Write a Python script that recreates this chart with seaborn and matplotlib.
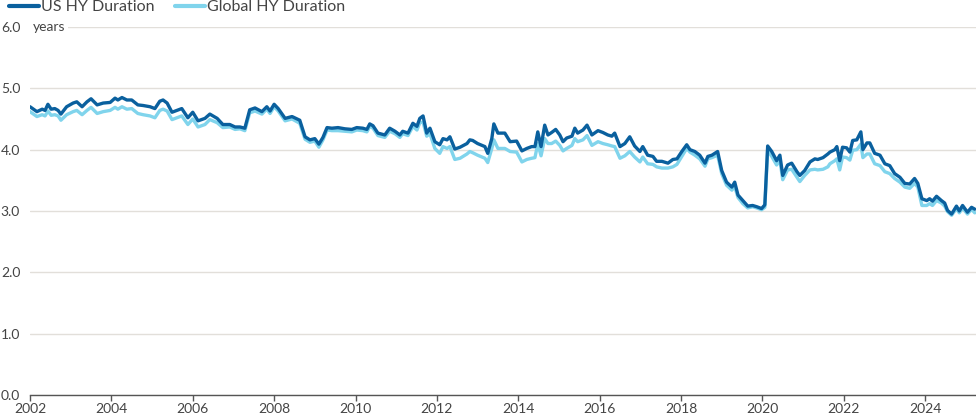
import pandas as pd
import seaborn as sns
import matplotlib.pyplot as plt

# decimal years
years = [
    2002.00, 2002.17, 2002.30, 2002.37, 2002.44, 2002.52, 2002.61, 2002.69, 2002.76, 2002.90,
    2003.06, 2003.15, 2003.28, 2003.40, 2003.50, 2003.65, 2003.80, 2003.97, 2004.09, 2004.16,
    2004.26, 2004.38, 2004.50, 2004.65, 2004.78, 2004.95, 2005.07, 2005.19, 2005.27, 2005.37,
    2005.49, 2005.61, 2005.73, 2005.88, 2006.00, 2006.13, 2006.30, 2006.42, 2006.60, 2006.74,
    2006.91, 2007.04, 2007.16, 2007.28, 2007.40, 2007.53, 2007.70, 2007.82, 2007.90, 2008.00,
    2008.10, 2008.27, 2008.44, 2008.63, 2008.76, 2008.88, 2009.00, 2009.10, 2009.20, 2009.30,
    2009.42, 2009.57, 2009.74, 2009.91, 2010.03, 2010.18, 2010.28, 2010.35, 2010.43, 2010.55,
    2010.72, 2010.84, 2010.97, 2011.09, 2011.16, 2011.29, 2011.41, 2011.51, 2011.58, 2011.66,
    2011.75, 2011.83, 2011.95, 2012.07, 2012.15, 2012.25, 2012.32, 2012.44, 2012.57, 2012.74,
    2012.81, 2012.88, 2013.00, 2013.18, 2013.25, 2013.35, 2013.40, 2013.50, 2013.67, 2013.80,
    2013.96, 2014.09, 2014.21, 2014.33, 2014.41, 2014.48, 2014.56, 2014.65, 2014.73, 2014.82,
    2014.92, 2015.02, 2015.10, 2015.19, 2015.32, 2015.39, 2015.46, 2015.59, 2015.69, 2015.81,
    2015.96, 2016.08, 2016.20, 2016.30, 2016.37, 2016.50, 2016.62, 2016.74, 2016.86, 2016.99,
    2017.06, 2017.18, 2017.31, 2017.40, 2017.53, 2017.68, 2017.80, 2017.90, 2018.02, 2018.14,
    2018.22, 2018.34, 2018.46, 2018.59, 2018.66, 2018.76, 2018.90, 2019.00, 2019.12, 2019.25,
    2019.32, 2019.40, 2019.52, 2019.64, 2019.76, 2019.86, 2019.98, 2020.06, 2020.13, 2020.23,
    2020.35, 2020.43, 2020.50, 2020.62, 2020.72, 2020.85, 2020.92, 2021.04, 2021.17, 2021.29,
    2021.36, 2021.49, 2021.61, 2021.66, 2021.78, 2021.83, 2021.90, 2021.97, 2022.07, 2022.15,
    2022.22, 2022.32, 2022.42, 2022.47, 2022.57, 2022.64, 2022.76, 2022.89, 2023.01, 2023.13,
    2023.25, 2023.38, 2023.50, 2023.62, 2023.74, 2023.82, 2023.92, 2024.04, 2024.11, 2024.18,
    2024.28, 2024.40, 2024.48, 2024.55, 2024.65, 2024.77, 2024.84, 2024.92, 2025.04, 2025.14,
    2025.22,
]

us_hy = [
    4.70, 4.62, 4.66, 4.64, 4.74, 4.66, 4.67, 4.64, 4.58, 4.70,
    4.76, 4.78, 4.70, 4.78, 4.83, 4.73, 4.76, 4.77, 4.84, 4.81,
    4.85, 4.81, 4.81, 4.73, 4.72, 4.70, 4.67, 4.79, 4.81, 4.76,
    4.61, 4.64, 4.67, 4.52, 4.61, 4.47, 4.51, 4.58, 4.51, 4.41,
    4.41, 4.37, 4.37, 4.35, 4.65, 4.68, 4.62, 4.70, 4.63, 4.74,
    4.67, 4.51, 4.54, 4.48, 4.21, 4.16, 4.18, 4.09, 4.20, 4.36,
    4.35, 4.36, 4.34, 4.33, 4.36, 4.35, 4.33, 4.42, 4.39, 4.27,
    4.24, 4.35, 4.30, 4.24, 4.30, 4.27, 4.43, 4.38, 4.51, 4.55,
    4.27, 4.35, 4.13, 4.08, 4.18, 4.16, 4.21, 4.01, 4.04, 4.10,
    4.16, 4.15, 4.10, 4.05, 3.94, 4.18, 4.42, 4.27, 4.27, 4.13,
    4.14, 3.98, 4.02, 4.05, 4.05, 4.29, 4.05, 4.40, 4.24, 4.28,
    4.33, 4.24, 4.13, 4.19, 4.22, 4.35, 4.27, 4.32, 4.40, 4.24,
    4.31, 4.28, 4.24, 4.22, 4.27, 4.05, 4.10, 4.21, 4.06, 3.97,
    4.05, 3.91, 3.89, 3.81, 3.81, 3.78, 3.84, 3.85, 3.97, 4.08,
    4.00, 3.97, 3.91, 3.78, 3.89, 3.91, 3.97, 3.66, 3.47, 3.39,
    3.47, 3.26, 3.17, 3.08, 3.09, 3.07, 3.04, 3.10, 4.06, 3.97,
    3.82, 3.91, 3.58, 3.75, 3.78, 3.64, 3.58, 3.66, 3.80, 3.85,
    3.84, 3.87, 3.93, 3.96, 4.00, 4.05, 3.82, 4.04, 4.03, 3.96,
    4.15, 4.16, 4.29, 4.00, 4.11, 4.11, 3.94, 3.91, 3.77, 3.74,
    3.61, 3.55, 3.45, 3.44, 3.53, 3.45, 3.20, 3.17, 3.20, 3.16,
    3.24, 3.17, 3.13, 3.01, 2.95, 3.08, 3.00, 3.09, 2.98, 3.06,
    3.03,
]

global_hy = [
    4.62, 4.54, 4.57, 4.55, 4.63, 4.56, 4.57, 4.55, 4.48, 4.57,
    4.62, 4.64, 4.57, 4.64, 4.69, 4.59, 4.62, 4.64, 4.69, 4.66,
    4.70, 4.66, 4.67, 4.59, 4.57, 4.55, 4.52, 4.64, 4.66, 4.63,
    4.49, 4.52, 4.55, 4.41, 4.50, 4.37, 4.41, 4.49, 4.44, 4.36,
    4.37, 4.33, 4.34, 4.31, 4.60, 4.63, 4.58, 4.66, 4.59, 4.70,
    4.63, 4.47, 4.50, 4.43, 4.17, 4.12, 4.14, 4.04, 4.16, 4.32,
    4.31, 4.31, 4.30, 4.29, 4.32, 4.31, 4.29, 4.38, 4.35, 4.23,
    4.20, 4.30, 4.26, 4.20, 4.26, 4.23, 4.38, 4.32, 4.44, 4.45,
    4.22, 4.26, 4.02, 3.94, 4.05, 4.02, 4.05, 3.84, 3.86, 3.93,
    3.97, 3.95, 3.91, 3.86, 3.79, 4.02, 4.16, 4.02, 4.02, 3.97,
    3.96, 3.80, 3.84, 3.86, 3.87, 4.10, 3.90, 4.18, 4.10, 4.10,
    4.14, 4.07, 3.98, 4.02, 4.07, 4.18, 4.13, 4.16, 4.23, 4.07,
    4.13, 4.10, 4.08, 4.06, 4.05, 3.86, 3.90, 3.97, 3.88, 3.80,
    3.88, 3.77, 3.76, 3.72, 3.70, 3.70, 3.72, 3.76, 3.89, 4.02,
    3.96, 3.91, 3.85, 3.73, 3.85, 3.87, 3.91, 3.61, 3.42, 3.34,
    3.40, 3.22, 3.12, 3.05, 3.07, 3.05, 3.02, 3.06, 3.99, 3.89,
    3.75, 3.83, 3.51, 3.67, 3.68, 3.55, 3.48, 3.58, 3.67, 3.68,
    3.67, 3.68, 3.72, 3.77, 3.82, 3.85, 3.67, 3.88, 3.87, 3.83,
    3.99, 4.00, 4.09, 3.87, 3.93, 3.93, 3.77, 3.74, 3.64, 3.61,
    3.53, 3.47, 3.39, 3.37, 3.45, 3.39, 3.09, 3.09, 3.12, 3.09,
    3.17, 3.13, 3.08, 2.99, 2.93, 3.04, 2.97, 3.05, 2.95, 3.03,
    2.97,
]

series_names = ["US HY Duration", "Global HY Duration"]
x_ticks = list(range(2002, 2026, 2))
y_ticks = [0.0, 1.0, 2.0, 3.0, 4.0, 5.0, 6.0]

df = pd.concat([
    pd.DataFrame({"year": years, "duration": global_hy, "series": series_names[1]}),
    pd.DataFrame({"year": years, "duration": us_hy, "series": series_names[0]}),
])

sns.set_style("white")
plt.rcParams["font.family"] = ["Lato", "DejaVu Sans"]

dark_blue = "#0a609e"
light_blue = "#80d4ec"
text_col = "#444444"

fig = plt.figure(figsize=(9.76, 4.18), dpi=100)
ax = fig.add_axes([30 / 976, 23 / 418, 946 / 976, 368 / 418])

sns.lineplot(data=df, x="year", y="duration", hue="series",
             palette={series_names[0]: dark_blue, series_names[1]: light_blue},
             linewidth=2.4, ax=ax, legend=False, estimator=None, sort=False)

ax.set_xlim(2002, 2025.25)
ax.set_ylim(0, 6)
ax.set_xticks(x_ticks)
ax.set_xticklabels([str(t) for t in x_ticks])
ax.set_yticks(y_ticks)
ax.set_yticklabels([f"{t:.1f}" for t in y_ticks], ha="left")
ax.set_xlabel("")
ax.set_ylabel("")

ax.grid(axis="y", color="#e2dfda", linewidth=1)
ax.set_axisbelow(True)
for s in ["top", "right", "left"]:
    ax.spines[s].set_visible(False)
ax.spines["bottom"].set_color("#555555")
ax.spines["bottom"].set_linewidth(1)
ax.tick_params(axis="x", length=4, width=1, color="#555555", labelsize=10,
               labelcolor=text_col, pad=2, bottom=True)
ax.tick_params(axis="y", length=0, labelsize=10, labelcolor=text_col, pad=21)

ax.text(2002.07, 6.0, "years", ha="left", va="center", fontsize=10, color=text_col,
        bbox=dict(facecolor="white", edgecolor="none", pad=2))

handles = [plt.Line2D([], [], color=dark_blue, linewidth=3),
           plt.Line2D([], [], color=light_blue, linewidth=3)]
fig.legend(handles, series_names, loc="upper left", bbox_to_anchor=(0.009, 1.0),
           ncol=2, frameon=False, fontsize=11.5, handlelength=1.9, handletextpad=0.1,
           columnspacing=1.3, borderaxespad=0, borderpad=0, labelcolor=text_col)

fig.savefig("out.png", dpi=100)
